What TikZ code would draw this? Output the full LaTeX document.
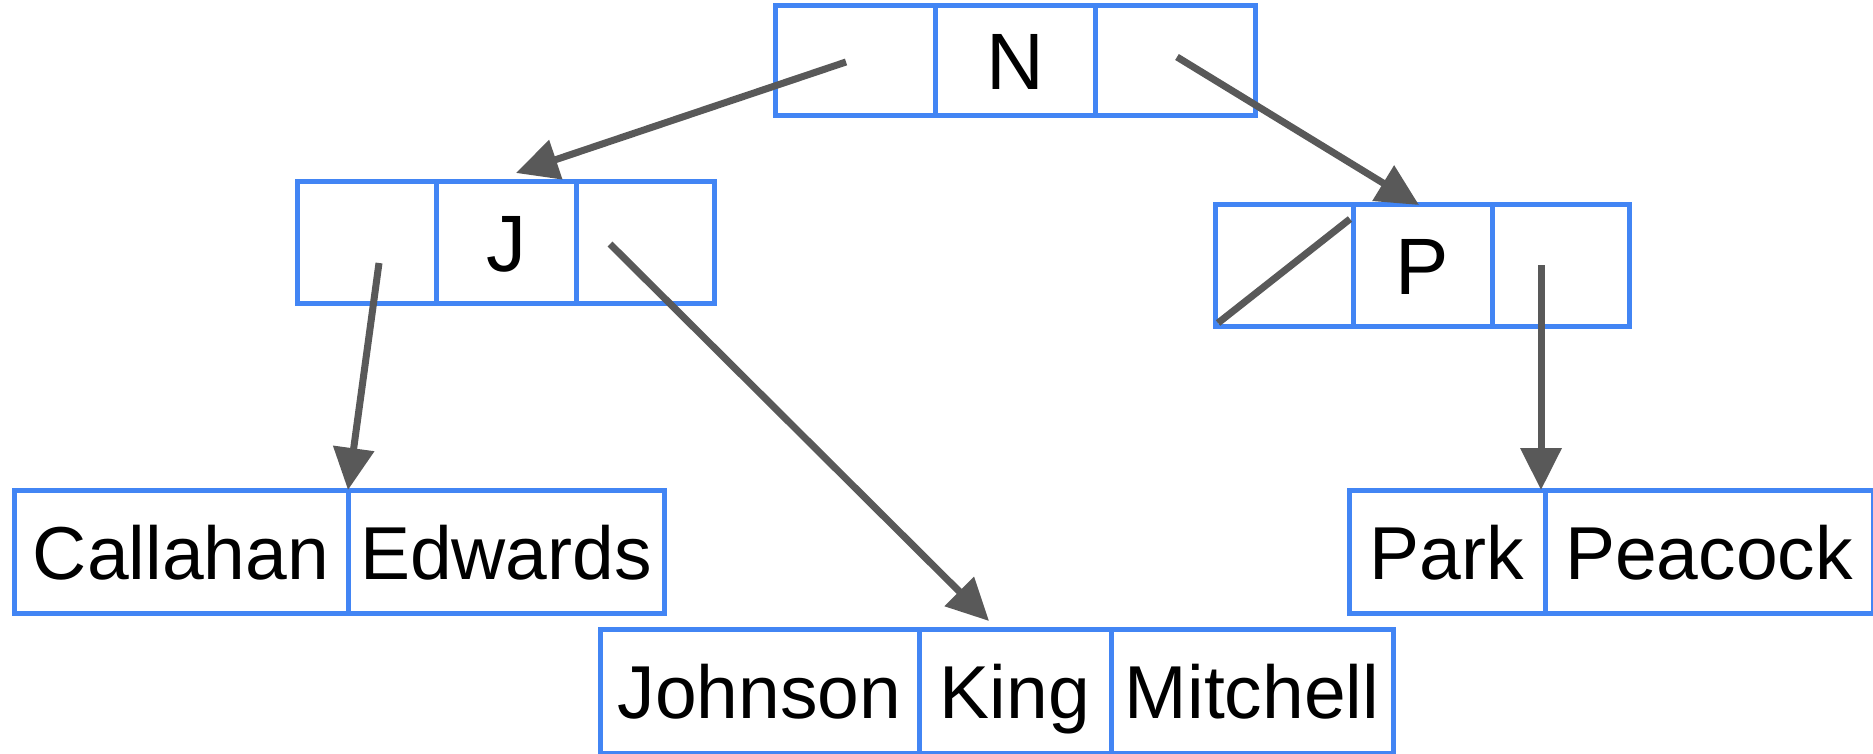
\documentclass[tikz,border=0pt]{standalone}
\usepackage{fontspec}
\setmainfont{Liberation Sans}
\usetikzlibrary{arrows.meta}
\definecolor{boxblue}{HTML}{4285F4}
\definecolor{arrowgray}{HTML}{595959}
\begin{document}
\begin{tikzpicture}[x=1pt,y=-1pt,
  cell/.style={draw=boxblue,line width=5pt,fill=white,inner sep=0pt,outer sep=0pt,
    font=\fontsize{75}{80}\selectfont,text=black,text height=55pt,text depth=0pt},
  keycell/.style={cell,font=\fontsize{80}{86}\selectfont,text height=57pt},
  link/.style={draw=arrowgray,line width=7pt,-{Triangle[length=42pt,width=40pt]}},
  nulllink/.style={draw=arrowgray,line width=7pt}]
\useasboundingbox (0,0) rectangle (1873,754);
% root N
\node[keycell,minimum width=160pt,minimum height=110pt] (n1) at (855,61) {};
\node[keycell,minimum width=160pt,minimum height=110pt] (n2) at (1015,61) {N};
\node[keycell,minimum width=160pt,minimum height=110pt] (n3) at (1175,61) {};
% J
\node[keycell,minimum width=139pt,minimum height=121pt] (j1) at (366.5,242.5) {};
\node[keycell,minimum width=140pt,minimum height=121pt] (j2) at (506,242.5) {J};
\node[keycell,minimum width=138pt,minimum height=121pt] (j3) at (645,242.5) {};
% P
\node[keycell,minimum width=138pt,minimum height=121pt] (p1) at (1284,265.5) {};
\node[keycell,minimum width=139pt,minimum height=121pt] (p2) at (1422.5,265.5) {P};
\node[keycell,minimum width=137pt,minimum height=121pt] (p3) at (1560.5,265.5) {};
% leaves
\node[cell,minimum width=334pt,minimum height=123pt] (cal) at (181,551.5) {Callahan};
\node[cell,minimum width=316pt,minimum height=123pt] (edw) at (506,551.5) {Edwards};
\node[cell,minimum width=319pt,minimum height=124pt] (joh) at (759.5,691) {Johnson};
\node[cell,minimum width=192pt,minimum height=124pt] (kin) at (1015,691) {King};
\node[cell,minimum width=282pt,minimum height=124pt] (mit) at (1252,691) {Mitchell};
\node[cell,minimum width=196pt,minimum height=123pt] (par) at (1447,551.5) {Park};
\node[cell,minimum width=328pt,minimum height=123pt] (pea) at (1709,551.5) {Peacock};
% pointer start / end coordinates
\coordinate (s1) at (846,62);
\coordinate (e1) at (516,173);
\coordinate (s2) at (1177,57);
\coordinate (e2) at (1419,205);
\coordinate (s3) at (379,263);
\coordinate (e3) at (348,490);
\coordinate (s4) at (610,244);
\coordinate (e4) at (989,621);
\coordinate (s5) at (1541,265);
\coordinate (e5) at (1541,490);
\coordinate (z1) at (1218,323);
\coordinate (z2) at (1350,219);
% connectors
\draw[link] (s1) -- (e1);
\draw[link] (s2) -- (e2);
\draw[link] (s3) -- (e3);
\draw[link] (s4) -- (e4);
\draw[link] (s5) -- (e5);
\draw[nulllink] (z1) -- (z2);
\end{tikzpicture}
\end{document}
